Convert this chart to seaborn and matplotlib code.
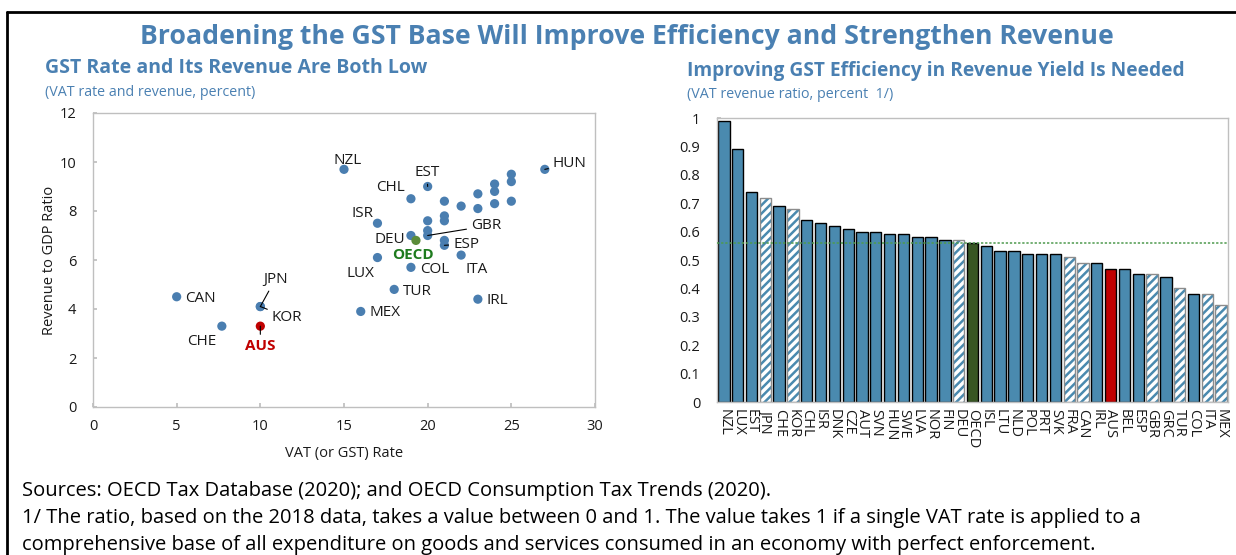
import matplotlib
matplotlib.use("Agg")
import matplotlib.pyplot as plt
import seaborn as sns
import pandas as pd
from matplotlib.lines import Line2D
from matplotlib.patches import Rectangle

# ---------------- data ----------------
# Left panel: VAT rate vs. VAT revenue (% of GDP)
scatter_labels = ["NZL", "EST", "CHL", "ISR", "DEU", "OECD", "GBR", "", "", "ESP", "",
                  "", "", "", "LUX", "COL", "ITA", "TUR", "MEX", "IRL", "",
                  "", "", "", "", "", "", "", "", "HUN",
                  "CAN", "CHE", "JPN", "KOR", "AUS"]
vat_rate = [15, 20, 19, 17, 19, 19.3, 20, 20, 20, 21, 21,
            21, 21, 21, 17, 19, 22, 18, 16, 23, 22,
            23, 23, 24, 24, 24, 25, 25, 25, 27,
            5, 7.7, 10, 10, 10]
revenue = [9.7, 9.0, 8.5, 7.5, 7.0, 6.8, 7.0, 7.2, 7.6, 6.6, 6.8,
           7.6, 7.8, 8.4, 6.1, 5.7, 6.2, 4.8, 3.9, 4.4, 8.2,
           8.7, 8.1, 9.1, 8.8, 8.3, 9.5, 9.2, 8.4, 9.7,
           4.5, 3.3, 4.1, 4.1, 3.3]
scatter_group = ["OECD" if l == "OECD" else ("AUS" if l == "AUS" else "Country")
                 for l in scatter_labels]

x_ticks_left = [0, 5, 10, 15, 20, 25, 30]
y_ticks_left = [0, 2, 4, 6, 8, 10, 12]

# Right panel: VAT revenue ratio
bar_countries = ["NZL", "LUX", "EST", "JPN", "CHE", "KOR", "CHL", "ISR", "DNK", "CZE",
                 "AUT", "SVN", "HUN", "SWE", "LVA", "NOR", "FIN", "DEU", "OECD", "ISL",
                 "LTU", "NLD", "POL", "PRT", "SVK", "FRA", "CAN", "IRL", "AUS", "BEL",
                 "ESP", "GBR", "GRC", "TUR", "COL", "ITA", "MEX"]
bar_ratio = [0.99, 0.89, 0.74, 0.72, 0.69, 0.68, 0.64, 0.63, 0.62, 0.61,
             0.60, 0.60, 0.59, 0.59, 0.58, 0.58, 0.57, 0.57, 0.56, 0.55,
             0.53, 0.53, 0.52, 0.52, 0.52, 0.51, 0.49, 0.49, 0.47, 0.47,
             0.45, 0.45, 0.44, 0.40, 0.38, 0.38, 0.34]
hatched_countries = ["JPN", "KOR", "DEU", "FRA", "CAN", "GBR", "TUR", "ITA", "MEX"]
oecd_ratio = 0.56
y_ticks_right = [0, 0.1, 0.2, 0.3, 0.4, 0.5, 0.6, 0.7, 0.8, 0.9, 1.0]

# ---------------- style ----------------
sns.set_theme(style="white")
plt.rcParams["font.family"] = ["Open Sans", "DejaVu Sans"]
plt.rcParams["hatch.linewidth"] = 1.8

TITLE_BLUE = "#4A80B2"
POINT_BLUE = "#4A7EB0"
BAR_BLUE = "#4A8AAF"
GREEN_BAR = "#375623"
GREEN_PT = "#5B8C3A"
GREEN_TXT = "#1E7B1E"
RED = "#C00000"
SPINE = "#BFBFBF"
TXT = "#1A1A1A"

W, H = 1236, 555
fig = plt.figure(figsize=(W / 100, H / 100), dpi=100)
fig.patch.set_facecolor("white")


def fx(px):
    return px / W


def fy(py):
    return 1 - py / H


# frame lines (top and left)
fig.add_artist(Line2D([fx(7), 1.0], [fy(12), fy(12)], color="black", lw=2.0))
fig.add_artist(Line2D([fx(7), fx(7)], [0, fy(12)], color="black", lw=2.0))

# titles
fig.text(fx(627), fy(37), "Broadening the GST Base Will Improve Efficiency and Strengthen Revenue",
         ha="center", va="center", fontsize=19.2, fontweight="bold", color=TITLE_BLUE)
fig.text(fx(45), fy(68), "GST Rate and Its Revenue Are Both Low", ha="left", va="center",
         fontsize=14, fontweight="bold", color=TITLE_BLUE)
fig.text(fx(45), fy(92), "(VAT rate and revenue, percent)", ha="left", va="center",
         fontsize=10.3, color=TITLE_BLUE)
fig.text(fx(687), fy(71), "Improving GST Efficiency in Revenue Yield Is Needed", ha="left",
         va="center", fontsize=13.8, fontweight="bold", color=TITLE_BLUE)
fig.text(fx(687), fy(94), "(VAT revenue ratio, percent  1/)", ha="left", va="center",
         fontsize=10.3, color=TITLE_BLUE)

# footnotes
notes = ["Sources: OECD Tax Database (2020); and OECD Consumption Tax Trends (2020).",
         "1/ The ratio, based on the 2018 data, takes a value between 0 and 1. The value takes 1 if a single VAT rate is applied to a",
         "comprehensive base of all expenditure on goods and services consumed in an economy with perfect enforcement."]
for i, t in enumerate(notes):
    fig.text(fx(22), fy(491 + 27 * i), t, ha="left", va="center", fontsize=14.5, color="black")

# ---------------- left panel ----------------
ax1 = fig.add_axes([fx(93), fy(407), fx(595) - fx(93), fy(113) - fy(407)])
df_sc = pd.DataFrame({"label": scatter_labels, "vat": vat_rate, "rev": revenue,
                      "group": scatter_group})
sns.scatterplot(data=df_sc, x="vat", y="rev", hue="group",
                palette={"Country": POINT_BLUE, "OECD": GREEN_PT, "AUS": RED},
                s=44, edgecolor="none", legend=False, ax=ax1, zorder=3)
ax1.set_xlim(0, 30)
ax1.set_ylim(0, 12)
ax1.set_xticks(x_ticks_left)
ax1.set_yticks(y_ticks_left)
ax1.set_xlabel("VAT (or GST) Rate", fontsize=10.5, color=TXT, labelpad=8)
ax1.set_ylabel("Revenue to GDP Ratio", fontsize=10.5, color=TXT, labelpad=2)
for s in ax1.spines.values():
    s.set_color(SPINE)
    s.set_linewidth(1.0)
ax1.tick_params(axis="both", which="both", direction="in", length=3, color=SPINE,
                labelsize=10.5, labelcolor=TXT, left=True, bottom=True)
ax1.tick_params(axis="x", pad=9)
ax1.tick_params(axis="y", pad=12)

# label positions (data coords) for each labelled point
label_pos = {
    "NZL": (15.2, 10.08), "EST": (19.95, 9.59), "CHL": (17.75, 8.94), "ISR": (16.1, 7.88),
    "DEU": (17.75, 6.82), "OECD": (19.1, 6.2), "GBR": (23.5, 7.39), "ESP": (22.3, 6.65),
    "LUX": (16.0, 5.43), "COL": (20.4, 5.63), "ITA": (22.95, 5.63), "TUR": (19.4, 4.73),
    "MEX": (17.45, 3.84), "IRL": (24.15, 4.33), "HUN": (28.5, 9.92), "CAN": (6.45, 4.41),
    "CHE": (6.5, 2.69), "JPN": (10.9, 5.22), "KOR": (11.6, 3.67), "AUS": (10.0, 2.49),
}
with_line = {"EST", "GBR", "ESP", "HUN", "JPN", "KOR", "AUS"}
for lab, x, y in zip(scatter_labels, vat_rate, revenue):
    if not lab:
        continue
    tx, ty = label_pos[lab]
    color, weight = TXT, "normal"
    if lab == "OECD":
        color, weight = GREEN_TXT, "bold"
    elif lab == "AUS":
        color, weight = RED, "bold"
    kw = {}
    if lab in with_line:
        kw["arrowprops"] = dict(arrowstyle="-", color="black", lw=0.8, shrinkA=1, shrinkB=0)
    ax1.annotate(lab, xy=(x, y), xytext=(tx, ty), ha="center", va="center",
                 fontsize=11, color=color, fontweight=weight, zorder=4, **kw)

# ---------------- right panel ----------------
ax2 = fig.add_axes([fx(717), fy(402), fx(1228) - fx(717), fy(118) - fy(402)])
df_bar = pd.DataFrame({"country": bar_countries, "ratio": bar_ratio})
bar_pal = {}
for c in bar_countries:
    if c == "OECD":
        bar_pal[c] = GREEN_BAR
    elif c == "AUS":
        bar_pal[c] = RED
    else:
        bar_pal[c] = BAR_BLUE
sns.barplot(data=df_bar, x="country", y="ratio", hue="country", palette=bar_pal,
            legend=False, width=0.82, saturation=1, edgecolor="black", linewidth=1.0,
            ax=ax2, zorder=2)
for patch, c in zip(ax2.patches, bar_countries):
    if c in hatched_countries:
        patch.set_facecolor("white")
        patch.set_edgecolor(BAR_BLUE)
        patch.set_hatch("////")
        patch.set_linewidth(0)
        outline = Rectangle((patch.get_x(), patch.get_y()), patch.get_width(),
                            patch.get_height(), fill=False, edgecolor="#8C8C8C",
                            lw=1.0, zorder=2.5)
        ax2.add_patch(outline)

ax2.axhline(oecd_ratio, color="#4E9A4E", ls=(0, (1.5, 1.2)), lw=1.1, zorder=5)
ax2.set_ylim(0, 1)
ax2.set_xlim(-0.5, len(bar_countries) - 0.5)
ax2.set_yticks(y_ticks_right)
ax2.set_yticklabels([("%g" % v) for v in y_ticks_right])
ax2.set_xlabel("")
ax2.set_ylabel("")
for s in ax2.spines.values():
    s.set_color(SPINE)
    s.set_linewidth(1.0)
ax2.tick_params(axis="y", direction="in", length=3, color=SPINE, labelsize=10.5,
                labelcolor=TXT, left=True, pad=12)
ax2.tick_params(axis="x", length=0, labelsize=10.5, labelcolor=TXT, pad=5)
for lbl in ax2.get_xticklabels():
    lbl.set_rotation(-90)
    lbl.set_ha("center")
    lbl.set_va("top")

fig.savefig("out.png", dpi=100, facecolor="white")
